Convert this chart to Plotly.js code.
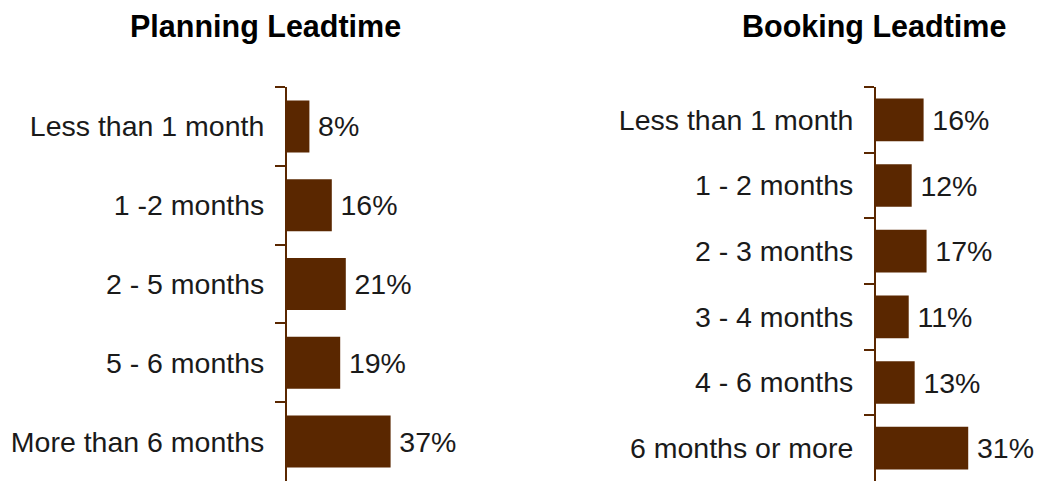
<!DOCTYPE html>
<html>
<head>
<meta charset="utf-8">
<script src="https://cdn.plot.ly/plotly-3.0.1.min.js"></script>
<style>html,body{margin:0;padding:0;background:#fff;}#chart{width:1038px;height:481px;}</style>
</head>
<body>
<div id="chart"></div>
<script>
const planningCategories = ["Less than 1 month", "1 -2 months", "2 - 5 months", "5 - 6 months", "More than 6 months"];
const planningValues = [8, 16, 21, 19, 37];
const bookingCategories = ["Less than 1 month", "1 - 2 months", "2 - 3 months", "3 - 4 months", "4 - 6 months", "6 months or more"];
const bookingValues = [16, 12, 17, 11, 13, 31];

const barColor = "#5a2700";
const fontFam = "Liberation Sans, Arial, sans-serif";
const txtColor = "#1a1a1a";
const labelSize = 28.5;

const traces = [
  {
    type: "bar", orientation: "h",
    x: planningValues, y: planningCategories,
    xaxis: "x", yaxis: "y",
    marker: {color: barColor},
    width: 0.66,
    text: planningValues.map(v => "\u2009" + v + "%"),
    textposition: "outside",
    cliponaxis: false,
    textfont: {family: fontFam, size: labelSize, color: txtColor},
    hoverinfo: "none"
  },
  {
    type: "bar", orientation: "h",
    x: bookingValues, y: bookingCategories,
    xaxis: "x2", yaxis: "y2",
    marker: {color: barColor},
    width: 0.65,
    text: bookingValues.map(v => "\u2009" + v + "%"),
    textposition: "outside",
    cliponaxis: false,
    textfont: {family: fontFam, size: labelSize, color: txtColor},
    hoverinfo: "none"
  }
];

const W = 1038, H = 481;
const yAxisCommon = {
  type: "category",
  showline: true, linecolor: barColor, linewidth: 2,
  ticks: "outside", tickson: "boundaries", ticklen: 10, tickwidth: 2, tickcolor: barColor,
  showgrid: false, zeroline: false,
  tickfont: {family: fontFam, size: labelSize, color: txtColor},
  ticklabelstandoff: 15,
  fixedrange: true
};

const layout = {
  width: W, height: H,
  margin: {l: 0, r: 0, t: 0, b: 0},
  paper_bgcolor: "#fff", plot_bgcolor: "#fff",
  showlegend: false,
  xaxis: {domain: [287 / W, 399 / W], range: [0, 40], visible: false, fixedrange: true},
  xaxis2: {domain: [876 / W, 995 / W], range: [0, 40], visible: false, fixedrange: true},
  yaxis: Object.assign({}, yAxisCommon, {domain: [0, (H - 87) / H], range: [4.5, -0.5], anchor: "x"}),
  yaxis2: Object.assign({}, yAxisCommon, {domain: [0, (H - 87) / H], range: [5.5, -0.5], anchor: "x2"}),
  annotations: [
    {text: "<b>Planning Leadtime</b>", xref: "paper", yref: "paper", x: 265 / W, y: (H - 26) / H,
     xanchor: "center", yanchor: "middle", showarrow: false, font: {family: fontFam, size: 30.5, color: "#000"}},
    {text: "<b>Booking Leadtime</b>", xref: "paper", yref: "paper", x: 874 / W, y: (H - 26) / H,
     xanchor: "center", yanchor: "middle", showarrow: false, font: {family: fontFam, size: 30.5, color: "#000"}}
  ]
};

Plotly.newPlot("chart", traces, layout, {displayModeBar: false, staticPlot: true});
</script>
</body>
</html>
